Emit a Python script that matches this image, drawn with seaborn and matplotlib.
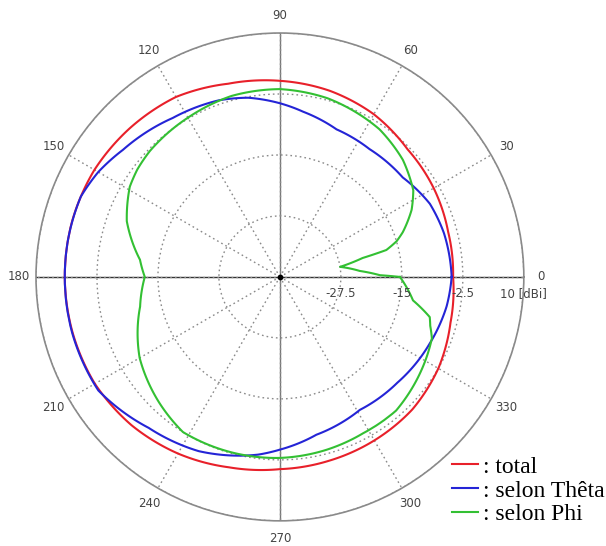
import numpy as np
import pandas as pd
import seaborn as sns
import matplotlib.pyplot as plt

# angles in degrees, gains in dBi
total_deg = [0, 15, 30, 45, 60, 75, 90, 105, 120, 135, 150, 165,
             180, 195, 210, 225, 240, 255, 270, 285, 300, 315, 330, 345]
total_db = [-4.5, -4.3, -3.6, -3.0, -1.5, -0.5, 0.2, 1.0, 2.6, 3.3, 3.9, 4.1,
            4.1, 4.0, 3.8, 3.0, 1.8, 0.4, -0.6, -1.0, -1.3, -1.6, -2.5, -3.8]

theta_deg = [0, 15, 26, 39, 55, 69, 82, 90, 100, 109, 124, 141, 150, 158, 170,
             180, 195, 212, 229, 245, 263, 270, 283, 301, 318, 336, 350]
theta_db = [-4.8, -5.2, -5.8, -7.6, -8.0, -7.6, -5.8, -4.4, -2.7, -1.7, -0.7, 1.4, 3.0, 4.0, 4.1,
            4.1, 4.1, 3.9, 1.0, -0.6, -3.3, -4.6, -6.8, -8.2, -7.6, -6.4, -5.3]

phi_deg = [0, 1, 4.3, 9.5, 12.9, 14.2, 17, 20, 27, 33, 43.6, 56, 75, 90, 105, 120,
           136, 143, 149, 160, 173, 180, 192, 210, 226, 238, 255, 270, 285, 298,
           311, 328, 338, 342, 345, 350]
phi_db = [-15.4, -19.5, -23.6, -27.5, -22.6, -17.5, -15.0, -13.2, -9.7, -7.4, -5.2, -3.5,
          -2.1, -1.5, -1.6, -2.3, -2.9, -3.4, -4.1, -6.6, -11.1, -12.3, -10.7, -6.8,
          -4.3, -2.5, -2.7, -2.9, -3.3, -3.7, -3.7, -5.4, -6.4, -7.6, -8.2, -12.3]

series = [": total", ": selon Thêta", ": selon Phi"]
colors = ["#e8202a", "#2424d6", "#33c033"]

r_ticks = [-27.5, -15, -2.5, 10]
r_labels = ["-27.5", "-15", "-2.5", "10 [dBi]"]


def closed(deg, db, name):
    deg = list(deg) + [deg[0] + 360]
    db = list(db) + [db[0]]
    return pd.DataFrame({"theta": np.deg2rad(deg), "gain": db, "serie": name})


df = pd.concat([closed(total_deg, total_db, series[0]),
                closed(theta_deg, theta_db, series[1]),
                closed(phi_deg, phi_db, series[2])], ignore_index=True)

fig = plt.figure(figsize=(6.06, 5.46), dpi=100)
ax = fig.add_axes([0.0594, 0.0458, 0.805, 0.894], projection="polar")

sns.lineplot(data=df, x="theta", y="gain", hue="serie", palette=colors,
             sort=False, estimator=None, linewidth=1.5, ax=ax)
# draw segments as arcs in polar space instead of straight chords
for line in ax.lines:
    line.get_path()._interpolation_steps = 40

ax.set_ylim(-40, 10)
ax.set_yticks(r_ticks)
ax.set_yticklabels([])
ax.set_xticks(np.deg2rad(np.arange(0, 360, 30)))
ax.set_xticklabels([str(a) for a in range(0, 360, 30)], color="#444444", fontsize=8.5)
ax.tick_params(axis="x", pad=2)
ax.grid(True, color="#8a8a8a", linestyle=(0, (1.2, 2.2)), linewidth=1.0)
ax.spines["polar"].set_color("#8a8a8a")
ax.spines["polar"].set_linewidth(1.2)
ax.set_xlabel("")
ax.set_ylabel("")

for a in [0, np.pi]:
    ax.axvline(a, color="#333333", linewidth=1.0, zorder=1)
for a in [np.pi / 2, 3 * np.pi / 2]:
    ax.axvline(a, color="#777777", linewidth=1.0, zorder=1)
ax.scatter([0], [-40], s=10, color="black", zorder=5)

for r, lab in zip(r_ticks, r_labels):
    ax.annotate(lab, xy=(0, r), xytext=(0, -7), textcoords="offset points",
                ha="center", va="top", fontsize=8.5, color="#444444")

handles, labels = ax.get_legend_handles_labels()
ax.legend(handles, labels, loc="lower left", bbox_to_anchor=(0.727, 0.016),
          bbox_transform=fig.transFigure, frameon=False, borderpad=0,
          prop={"family": "Liberation Serif", "size": 17},
          handlelength=1.1, handletextpad=0.2, labelspacing=0.1)

fig.savefig("out.png", dpi=100)
